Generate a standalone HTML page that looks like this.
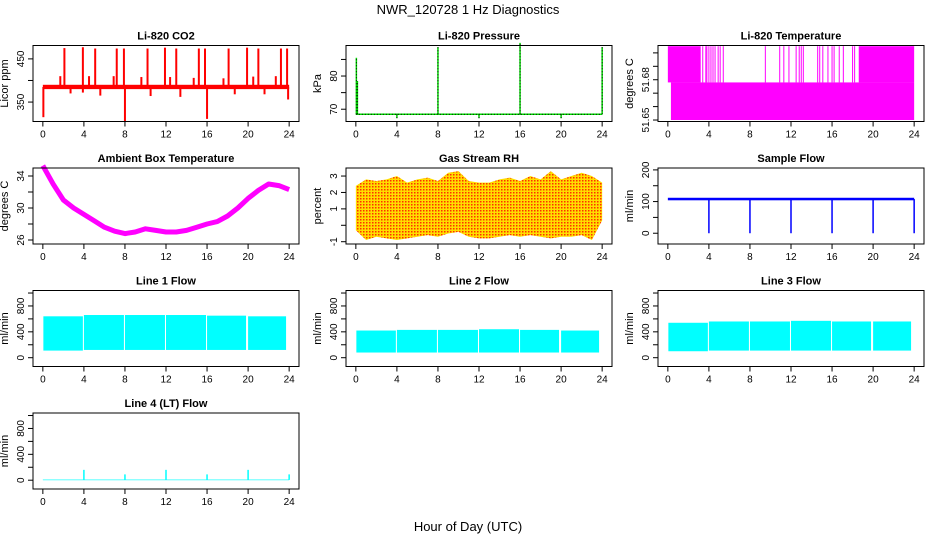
<!DOCTYPE html>
<html><head><meta charset="utf-8"><style>
html,body{margin:0;padding:0;background:#fff}
svg{display:block;font-family:"Liberation Sans",sans-serif}
</style></head><body>
<svg id="c" width="936" height="540" viewBox="0 0 936 540">
<text x="468" y="14" text-anchor="middle" font-size="13">NWR_120728  1 Hz Diagnostics</text>
<text x="468" y="531" text-anchor="middle" font-size="13">Hour of Day (UTC)</text>
</svg>
<script>
// ---- data ----
const xTicks=[0,4,8,12,16,20,24];
const co2Base=385;
const co2SpikeHours=[0.05,2.1,3.9,5.1,7.2,7.9,8.0,10.2,11.9,13.0,15.2,15.8,16.0,18.1,19.9,21.0,23.2,23.8,1.7,4.5,6.9,9.6,12.4,14.7,17.6,20.5,22.7,2.7,3.9,5.6,10.5,13.4,18.7,21.6,23.9];
const co2SpikeValues=[315,475,477,474,474,474,306,474,476,474,474,474,311,474,476,474,474,474,410,410,410,408,408,406,405,409,410,370,372,365,364,362,368,368,356];
const presBase=68.5;
const presSpikeHours=[0.05,0.15,8.0,16.0,24.0,4.0,12.0,20.0];
const presSpikeValues=[85.5,78.5,88.7,90.0,88.7,67.3,67.3,67.3];
const tempHighSegs=[[0,3.2],[18.6,24]];
const tempSpikeHours=[3.4,3.7,3.8,4.0,4.2,4.4,4.6,4.9,5.1,5.4,9.5,10.9,11.3,11.8,12.5,12.8,13.0,13.2,14.6,14.8,15.1,15.6,16.0,16.2,16.7,17.1,18.0,18.2];
const tempLevels=[51.65,51.678,51.705];
const ambHours=[0,1,2,3,4,5,6,7,8,9,10,11,12,13,14,15,16,17,18,19,20,21,22,23,24];
const ambValues=[35.3,33,31,30,29.2,28.4,27.6,27.1,26.8,27,27.4,27.2,27,27,27.2,27.6,28,28.3,29,30,31.2,32.2,33,32.8,32.3];
const rhHigh=[2.4,2.8,2.7,2.8,3.0,2.6,2.8,2.9,2.7,3.2,3.3,2.7,2.6,2.6,2.8,2.9,2.7,3.0,2.8,3.3,2.8,3.0,3.2,3.0,2.6];
const rhLow=[-0.3,-0.9,-0.7,-0.8,-0.9,-0.8,-0.7,-0.6,-0.7,-0.5,-0.4,-0.7,-0.8,-0.8,-0.7,-0.6,-0.7,-0.6,-0.7,-0.8,-0.7,-0.7,-0.6,-0.9,0.3];
const sfBase=108;
const sfDipHours=[4,8,12,16,20,24];
const sfDipValues=[0,0,0,0,0,0];
const flowSegs=[[0.05,3.9],[4.0,7.9],[8.0,11.9],[12.0,15.9],[16.0,19.8],[20.0,23.7]];
const line1Low=[110,120,120,120,120,120];
const line1High=[640,660,660,660,650,640];
const line2Low=[80,80,80,80,80,80];
const line2High=[420,430,430,440,430,420];
const line3Low=[100,110,110,110,110,110];
const line3High=[540,560,560,570,560,560];
const line4SpikeHours=[4,8,12,16,20,24];
const line4SpikeValues=[160,90,160,90,160,90];

// ---- layout ----
const NS="http://www.w3.org/2000/svg";
const svg=document.getElementById('c');
const colL=[33,346,658], rowT=[45.5,168,290.5,413], W=266, H=76;
function mk(tag,a,parent){const e=document.createElementNS(NS,tag);for(const k in a)e.setAttribute(k,a[k]);(parent||svg).appendChild(e);return e;}

function panel(name,col,row,title,ylab,ylim,yTicks,yLabels){
  const L=colL[col],T=rowT[row];
  const g=mk('g',{});
  
  
  const xs=h=>L+(h+0.96)/25.92*W;
  const ys=v=>T+H-(v-ylim[0])/(ylim[1]-ylim[0])*H;
  const t=mk('text',{x:L+W/2,y:T-6,'text-anchor':'middle','font-size':11,'font-weight':'bold'},g);
  t.textContent=title;
  
  
  const yl=mk('text',{x:0,y:0,'text-anchor':'middle','font-size':11,transform:`translate(${L-25},${T+H/2}) rotate(-90)`},g);
  yl.textContent=ylab;
  
  
  const xa=mk('g',{stroke:'#000','stroke-width':1},g);
  
  
  mk('line',{x1:xs(xTicks[0]),x2:xs(xTicks[xTicks.length-1]),y1:T+H,y2:T+H},xa);
  xTicks.forEach(v=>{mk('line',{x1:xs(v),x2:xs(v),y1:T+H,y2:T+H+5},xa);
    const tx=mk('text',{x:xs(v),y:T+H+16,'text-anchor':'middle','font-size':10,stroke:'none'},xa);tx.textContent=v;});
  const ya=mk('g',{stroke:'#000','stroke-width':1},g);
  
  
  mk('line',{x1:L,x2:L,y1:ys(yTicks[0]),y2:ys(yTicks[yTicks.length-1])},ya);
  yTicks.forEach((v,i)=>{mk('line',{x1:L-5,x2:L,y1:ys(v),y2:ys(v)},ya);
    if(yLabels[i]){const tx=mk('text',{x:0,y:0,'text-anchor':'middle','font-size':10,stroke:'none',transform:`translate(${L-9},${ys(v)}) rotate(-90)`},ya);tx.textContent=yLabels[i];}});
  const data=mk('g',{},g);
  
  
  setTimeout(()=>{const b=mk('rect',{x:L,y:T,width:W,height:H,fill:'none',stroke:'#000'},g);
    
    },0);
  return {xs,ys,g:data};
}
function vline(p,h,v1,v2,col,w){mk('line',{x1:p.xs(h),x2:p.xs(h),y1:p.ys(v1),y2:p.ys(v2),stroke:col,'stroke-width':w||1.5},p.g);}
function hband(p,h1,h2,v1,v2,col){mk('rect',{x:p.xs(h1),y:p.ys(v2),width:p.xs(h2)-p.xs(h1),height:p.ys(v1)-p.ys(v2),fill:col},p.g);}

// CO2
let p=panel('co2',0,0,'Li-820 CO2','Licor ppm',[305,481],[350,400,450],['350','','450']);
hband(p,0,24,co2Base-5,co2Base+5,'#ff0000');
co2SpikeHours.forEach((h,i)=>vline(p,h,co2Base,co2SpikeValues[i],'#ff0000',2));
// Pressure
p=panel('pressure',1,0,'Li-820 Pressure','kPa',[66.3,89.2],[70,75,80,85],['70','','80','']);
mk('line',{x1:p.xs(0),x2:p.xs(24),y1:p.ys(presBase),y2:p.ys(presBase),stroke:'#00dd00','stroke-width':1.5},p.g);
mk('line',{x1:p.xs(0),x2:p.xs(24),y1:p.ys(presBase),y2:p.ys(presBase),stroke:'#000','stroke-width':1,'stroke-dasharray':'1,2'},p.g);
presSpikeHours.forEach((h,i)=>{vline(p,h,presBase,presSpikeValues[i],'#00dd00',1.5);
  mk('line',{x1:p.xs(h),x2:p.xs(h),y1:p.ys(presBase),y2:p.ys(presSpikeValues[i]),stroke:'#000','stroke-dasharray':'1,2'},p.g);});
// Temperature
p=panel('li820-temp',2,0,'Li-820 Temperature','degrees C',[51.6489,51.7055],[51.65,51.66,51.67,51.68,51.69,51.70],['51.65','','','51.68','','']);
hband(p,0.3,24,tempLevels[0],tempLevels[1],'#ff00ff');
tempHighSegs.forEach(s=>hband(p,s[0],s[1],tempLevels[1],tempLevels[2],'#ff00ff'));
tempSpikeHours.forEach(h=>vline(p,h,tempLevels[1],tempLevels[2],'#ff00ff',1));
// Ambient
p=panel('ambient-temp',0,1,'Ambient Box Temperature','degrees C',[25.5,35],[26,28,30,32,34],['26','','30','','34']);
mk('polyline',{points:ambHours.map((h,i)=>p.xs(h)+','+p.ys(ambValues[i])).join(' '),fill:'none',stroke:'#ff00ff','stroke-width':5,'stroke-linejoin':'round'},p.g);
// RH
p=panel('gas-rh',1,1,'Gas Stream RH','percent',[-1.14,3.49],[-1,0,1,2,3],['-1','','1','2','3']);
const defs=mk('defs',{});
const pat=mk('pattern',{id:'rhp',width:3,height:3,patternUnits:'userSpaceOnUse'},defs);
mk('rect',{width:3,height:3,fill:'#ffdd00'},pat);
mk('rect',{width:1.5,height:1.5,fill:'#ff3000'},pat);
const rhPts=ambHours.map((h,i)=>p.xs(h)+','+p.ys(rhHigh[i])).concat(ambHours.slice().reverse().map((h,j)=>p.xs(h)+','+p.ys(rhLow[ambHours.length-1-j])));
mk('polygon',{points:rhPts.join(' '),fill:'url(#rhp)'},p.g);
// Sample flow
p=panel('sample-flow',2,1,'Sample Flow','ml/min',[-34,206],[0,50,100,150,200],['0','','100','','200']);
hband(p,0,24,sfBase-4,sfBase+4,'#0000ff');
sfDipHours.forEach((h,i)=>vline(p,h,sfBase,sfDipValues[i],'#0000ff',1.5));
// Line flows
const fT=[0,200,400,600,800,1000], fL=['0','','400','','800',''];
[['line1-flow',0,2,'Line 1 Flow',line1Low,line1High],['line2-flow',1,2,'Line 2 Flow',line2Low,line2High],['line3-flow',2,2,'Line 3 Flow',line3Low,line3High]].forEach(d=>{
  const q=panel(d[0],d[1],d[2],d[3],'ml/min',[-136,1039],fT,fL);
  flowSegs.forEach((s,i)=>hband(q,s[0],s[1],d[4][i],d[5][i],'#00ffff'));
});
p=panel('line4-flow',0,3,'Line 4 (LT) Flow','ml/min',[-136,1039],fT,fL);
hband(p,0,24,0,10,'#00ffff');
line4SpikeHours.forEach((h,i)=>vline(p,h,5,line4SpikeValues[i],'#00ffff',1.5));
</script>
</body></html>
